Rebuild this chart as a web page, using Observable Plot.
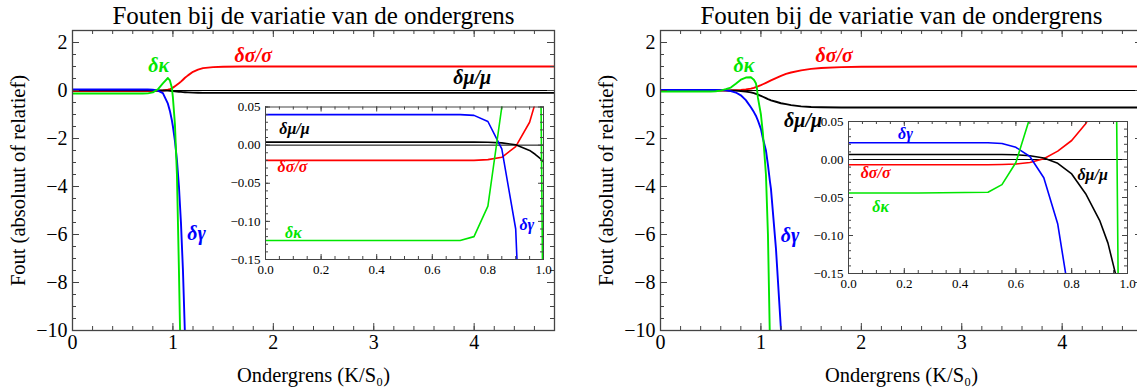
<!DOCTYPE html>
<html><head><meta charset="utf-8">
<script src="https://cdn.jsdelivr.net/npm/d3@7"></script>
<script src="https://cdn.jsdelivr.net/npm/@observablehq/plot@0.6"></script>
<style>
body{margin:0;background:#fff;}
#wrap{position:relative;width:1137px;height:389px;overflow:hidden;background:#fff;}
#wrap svg{position:absolute;}
</style></head><body><div id="wrap"></div>
<script>
// ---------- texts ----------
const titleText = "Fouten bij de variatie van de ondergrens";
const xLabelText = "Ondergrens (K/S₀)";
const yLabelText = "Fout (absoluut of relatief)";
const seriesNames = ["δσ/σ", "δμ/μ", "δγ", "δκ"];
const seriesColors = ["#ff0000", "#000000", "#0000ff", "#00e600"];

// ---------- tick labels ----------
const mainXTicks = [0, 1, 2, 3, 4];
const mainYTicks = [-10, -8, -6, -4, -2, 0, 2];
const insetXTicks = [0, 0.2, 0.4, 0.6, 0.8, 1.0];
const insetYTicks = [-0.15, -0.10, -0.05, 0, 0.05];

// ---------- left panel data ----------
const leftX =     [0, 0.35, 0.7, 0.75, 0.8, 0.85, 0.9, 0.95, 0.97, 0.99, 1.0, 1.02, 1.04, 1.06, 1.08, 1.1, 1.12, 1.15, 1.2, 1.25, 1.3, 1.4, 1.5, 1.7, 2.0, 3.0, 4.0, 4.8];
const leftSigma = [-0.02, -0.02, -0.02, -0.02, -0.019, -0.016, -0.002, 0.03, 0.055, 0.09, 0.12, 0.18, 0.24, 0.3, 0.37, 0.45, 0.53, 0.63, 0.78, 0.87, 0.93, 0.975, 0.99, 1.0, 1.0, 1.0, 1.0, 1.0];
const leftMu =    [0.004, 0.004, 0.004, 0.004, 0.0038, 0.003, 0.0005, -0.007, -0.012, -0.018, -0.022, -0.03, -0.04, -0.05, -0.058, -0.066, -0.072, -0.08, -0.09, -0.095, -0.098, -0.1, -0.1, -0.1, -0.1, -0.1, -0.1, -0.1];
const leftGamma = [0.04, 0.04, 0.04, 0.039, 0.031, -0.005, -0.11, -0.55, -0.85, -1.25, -1.5, -2.1, -2.9, -4.0, -5.5, -7.5, -10.2, -15, null, null, null, null, null, null, null, null, null, null];
const leftKappa = [-0.125, -0.125, -0.125, -0.12, -0.08, 0.05, 0.3, 0.52, 0.42, 0.1, -0.3, -1.4, -3.5, -7.5, -12, null, null, null, null, null, null, null, null, null, null, null, null, null];

// ---------- right panel data ----------
const rightX =     [0, 0.25, 0.5, 0.55, 0.6, 0.65, 0.7, 0.75, 0.8, 0.85, 0.9, 0.93, 0.95, 0.96, 0.97, 1.0, 1.02, 1.05, 1.07, 1.09, 1.1, 1.15, 1.2, 1.25, 1.3, 1.4, 1.5, 1.6, 1.8, 2.0, 3.0, 4.0, 4.8];
const rightSigma = [-0.007, -0.007, -0.007, -0.0065, -0.006, -0.004, 0.001, 0.011, 0.025, 0.047, 0.08, 0.11, 0.14, 0.155, 0.17, 0.22, 0.26, 0.32, 0.36, 0.4, 0.42, 0.52, 0.61, 0.69, 0.75, 0.84, 0.9, 0.94, 0.975, 0.99, 1.0, 1.0, 1.0];
const rightMu =    [0.0066, 0.0066, 0.0066, 0.0065, 0.0062, 0.005, 0.002, -0.005, -0.019, -0.045, -0.08, -0.11, -0.14, -0.155, -0.17, -0.22, -0.26, -0.32, -0.36, -0.39, -0.41, -0.47, -0.53, -0.57, -0.61, -0.66, -0.69, -0.7, -0.71, -0.71, -0.71, -0.71, -0.71];
const rightGamma = [0.022, 0.022, 0.022, 0.021, 0.016, 0.004, -0.024, -0.085, -0.2, -0.4, -0.7, -0.9, -1.05, -1.15, -1.25, -1.6, -2.0, -2.5, -3.1, -3.8, -4.1, -6.6, -10.0, -14, null, null, null, null, null, null, null, null, null];
const rightKappa = [-0.044, -0.044, -0.043, -0.033, -0.004, 0.055, 0.12, 0.28, 0.45, 0.54, 0.55, 0.45, 0.3, 0.1, -0.3, -1.0, -1.8, -3.5, -6.0, -10.5, -13, null, null, null, null, null, null, null, null, null, null, null, null];

// ---------- label anchors (data units), order as seriesNames ----------
const leftLabelX = [1.80, 3.98, 1.235, 0.857];
const leftLabelY = [1.46, 0.54, -5.96, 1.04];
const rightLabelX = [1.73, 1.42, 1.29, 0.83];
const rightLabelY = [1.46, -1.25, -6.04, 1.04];
const leftInsetLabelX = [0.097, 0.104, 0.94, 0.1];
const leftInsetLabelY = [-0.029, 0.0217, -0.104, -0.115];
const rightInsetLabelX = [0.097, 0.875, 0.204, 0.115];
const rightInsetLabelY = [-0.018, -0.0206, 0.034, -0.062];

// ---------- helpers ----------
const SERIF = "Liberation Serif, Times New Roman, serif";
const FRAME = "#444";
const rowsOf = (xs, ys) => xs.map((x, i) => ({x, y: ys[i]}));
const mainFmt = d => (d < 0 ? "−" : "") + Math.abs(d);

function tickMarks(xMaj, xMin, yMaj, yMin, fw, fh, Lmaj, Lmin) {
  const o = {stroke: FRAME, strokeWidth: 1};
  return [
    Plot.ruleX(xMaj, {...o, insetTop: fh - Lmaj}),
    Plot.ruleX(xMaj, {...o, insetBottom: fh - Lmaj}),
    Plot.ruleX(xMin, {...o, insetTop: fh - Lmin}),
    Plot.ruleX(xMin, {...o, insetBottom: fh - Lmin}),
    Plot.ruleY(yMaj, {...o, insetRight: fw - Lmaj}),
    Plot.ruleY(yMaj, {...o, insetLeft: fw - Lmaj}),
    Plot.ruleY(yMin, {...o, insetRight: fw - Lmin}),
    Plot.ruleY(yMin, {...o, insetLeft: fw - Lmin})
  ];
}

function seriesLines(xs, ys, sw) {
  return ys.map((arr, k) => Plot.line(rowsOf(xs, arr), {
    x: "x", y: "y", stroke: seriesColors[k], strokeWidth: sw, clip: true
  }));
}

function seriesLabels(lx, ly, fs) {
  return seriesNames.map((name, k) => Plot.text([name], {
    x: () => lx[k], y: () => ly[k], text: d => d, fill: seriesColors[k],
    fontSize: fs, fontStyle: "italic", fontWeight: "bold", fontFamily: SERIF
  }));
}

function mainPanel(xs, ys, lx, ly, left, width, ml, mr) {
  const H = 389, mt = 30, mb = 59;
  const fw = width - ml - mr, fh = H - mt - mb;
  const xMinor = d3.range(0, 4.81, 0.2).map(v => +v.toFixed(2));
  const yMinor = d3.range(-10, 2.51, 0.5);
  const svg = Plot.plot({
    width, height: H, marginLeft: ml, marginRight: mr, marginTop: mt, marginBottom: mb,
    style: {fontFamily: SERIF, fontSize: "20px", background: "transparent", color: "#000", overflow: "visible"},
    x: {domain: [0, 4.8], ticks: mainXTicks, tickSize: 0, tickPadding: 4, tickFormat: mainFmt, label: null},
    y: {domain: [-10, 2.5], ticks: mainYTicks, tickSize: 0, tickPadding: 5, tickFormat: mainFmt, label: null},
    marks: [
      Plot.ruleY([0], {stroke: "#000", strokeWidth: 1}),
      ...seriesLines(xs, ys, 1.9),
      ...tickMarks(mainXTicks, xMinor, mainYTicks, yMinor, fw, fh, 7, 4),
      Plot.frame({stroke: FRAME, strokeWidth: 1.3}),
      Plot.text([titleText], {frameAnchor: "top", dy: -15, text: d => d, fontSize: 25, lineAnchor: "middle", textAnchor: "middle", fontFamily: SERIF}),
      Plot.text([xLabelText], {frameAnchor: "bottom", dy: 45, text: d => d, fontSize: 20.5, lineAnchor: "middle", textAnchor: "middle", fontFamily: SERIF}),
      Plot.text([yLabelText], {frameAnchor: "left", dx: -54, rotate: -90, text: d => d, fontSize: 20.5, lineAnchor: "middle", textAnchor: "middle", fontFamily: SERIF}),
      ...seriesLabels(lx, ly, 20)
    ]
  });
  svg.style.left = left + "px";
  svg.style.top = "0px";
  return svg;
}

function insetPanel(xs, ys, lx, ly, left, top, width, height, ml, mr, mt, mb) {
  const fw = width - ml - mr, fh = height - mt - mb;
  const xMinor = d3.range(0, 1.001, 0.05).map(v => +v.toFixed(2));
  const yMinor = d3.range(-0.15, 0.0501, 0.01).map(v => +v.toFixed(3));
  const svg = Plot.plot({
    width, height, marginLeft: ml, marginRight: mr, marginTop: mt, marginBottom: mb,
    style: {fontFamily: SERIF, fontSize: "13px", background: "transparent", color: "#000", overflow: "visible"},
    x: {domain: [0, 1], ticks: insetXTicks, tickSize: 0, tickPadding: 5, tickFormat: d3.format(".1f"), label: null},
    y: {domain: [-0.15, 0.05], ticks: insetYTicks, tickSize: 0, tickPadding: 5, tickFormat: d3.format(".2f"), label: null},
    marks: [
      Plot.ruleY([0], {stroke: "#000", strokeWidth: 1}),
      ...seriesLines(xs, ys, 1.6),
      ...tickMarks(insetXTicks, xMinor, insetYTicks, yMinor, fw, fh, 5, 3),
      Plot.frame({stroke: FRAME, strokeWidth: 1}),
      ...seriesLabels(lx, ly, 16)
    ]
  });
  svg.style.left = left + "px";
  svg.style.top = top + "px";
  return svg;
}

const wrap = document.getElementById("wrap");
const leftYs = [leftSigma, leftMu, leftGamma, leftKappa];
const rightYs = [rightSigma, rightMu, rightGamma, rightKappa];
wrap.appendChild(mainPanel(leftX, leftYs, leftLabelX, leftLabelY, 0, 570, 72, 16));
wrap.appendChild(mainPanel(rightX, rightYs, rightLabelX, rightLabelY, 587, 560, 73, 5));
wrap.appendChild(insetPanel(leftX, leftYs, leftInsetLabelX, leftInsetLabelY, 215, 95, 335, 190, 50, 7, 11.5, 26));
wrap.appendChild(insetPanel(rightX, rightYs, rightInsetLabelX, rightInsetLabelY, 798, 110, 340, 190, 50, 11, 11, 27));
</script></body></html>
